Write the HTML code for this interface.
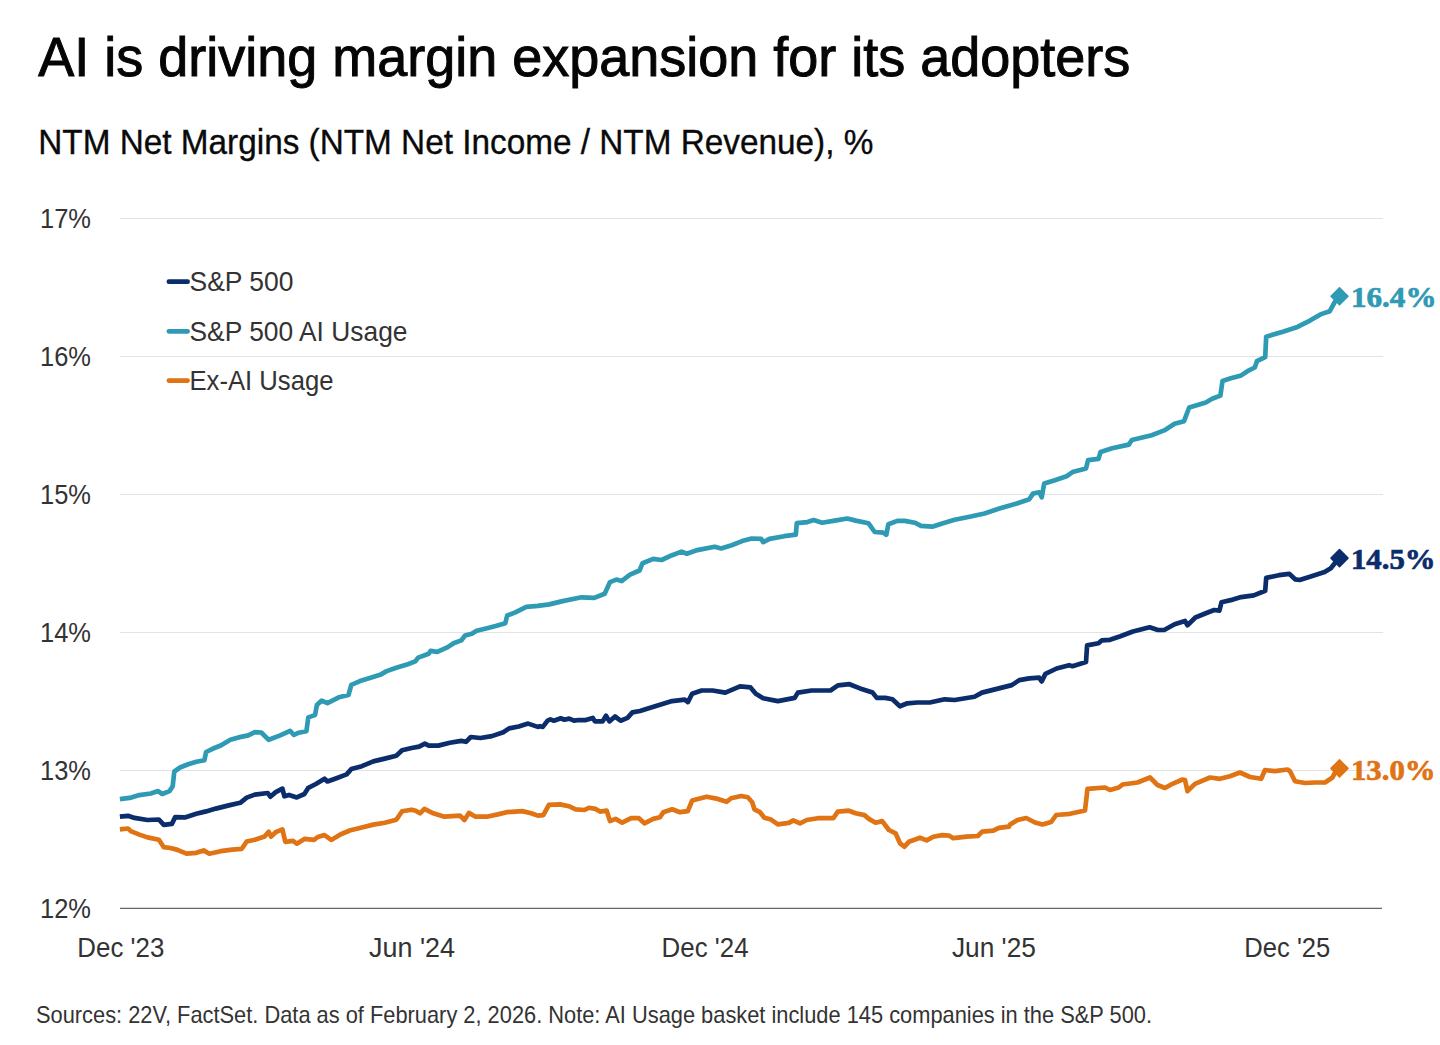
<!DOCTYPE html>
<html><head><meta charset="utf-8"><title>AI is driving margin expansion for its adopters</title>
<style>html,body{margin:0;padding:0;background:#fff;} svg{display:block;}</style></head>
<body><svg width="1440" height="1045" viewBox="0 0 1440 1045">
<rect width="1440" height="1045" fill="#fff"/>
<line x1="120" y1="218.5" x2="1383" y2="218.5" stroke="#e3e3e3" stroke-width="1.2"/>
<line x1="120" y1="356.5" x2="1383" y2="356.5" stroke="#e3e3e3" stroke-width="1.2"/>
<line x1="120" y1="494.5" x2="1383" y2="494.5" stroke="#e3e3e3" stroke-width="1.2"/>
<line x1="120" y1="632.5" x2="1383" y2="632.5" stroke="#e3e3e3" stroke-width="1.2"/>
<line x1="120" y1="770.5" x2="1383" y2="770.5" stroke="#e3e3e3" stroke-width="1.2"/>
<line x1="120" y1="908.3" x2="1382" y2="908.3" stroke="#666666" stroke-width="1.3"/>
<text x="38.3" y="75.8" font-size="56" fill="#050505" text-anchor="start" font-family='"Liberation Sans", sans-serif' font-weight="normal" textLength="1092" lengthAdjust="spacingAndGlyphs" stroke="#050505" stroke-width="1.0">AI is driving margin expansion for its adopters</text>
<text x="38.3" y="154.4" font-size="35.2" fill="#0a0a0a" text-anchor="start" font-family='"Liberation Sans", sans-serif' font-weight="normal" textLength="835" lengthAdjust="spacingAndGlyphs" stroke="#0a0a0a" stroke-width="0.35">NTM Net Margins (NTM Net Income / NTM Revenue), %</text>
<text x="91" y="227.6" font-size="28.5" fill="#333333" text-anchor="end" font-family='"Liberation Sans", sans-serif' font-weight="normal" textLength="51" lengthAdjust="spacingAndGlyphs">17%</text>
<text x="91" y="365.8" font-size="28.5" fill="#333333" text-anchor="end" font-family='"Liberation Sans", sans-serif' font-weight="normal" textLength="51" lengthAdjust="spacingAndGlyphs">16%</text>
<text x="91" y="504" font-size="28.5" fill="#333333" text-anchor="end" font-family='"Liberation Sans", sans-serif' font-weight="normal" textLength="51" lengthAdjust="spacingAndGlyphs">15%</text>
<text x="91" y="642.2" font-size="28.5" fill="#333333" text-anchor="end" font-family='"Liberation Sans", sans-serif' font-weight="normal" textLength="51" lengthAdjust="spacingAndGlyphs">14%</text>
<text x="91" y="780" font-size="28.5" fill="#333333" text-anchor="end" font-family='"Liberation Sans", sans-serif' font-weight="normal" textLength="51" lengthAdjust="spacingAndGlyphs">13%</text>
<text x="91" y="917.8" font-size="28.5" fill="#333333" text-anchor="end" font-family='"Liberation Sans", sans-serif' font-weight="normal" textLength="51" lengthAdjust="spacingAndGlyphs">12%</text>
<text x="120.8" y="956.5" font-size="27.3" fill="#333333" text-anchor="middle" font-family='"Liberation Sans", sans-serif' font-weight="normal" textLength="87" lengthAdjust="spacingAndGlyphs">Dec '23</text>
<text x="412" y="956.5" font-size="27.3" fill="#333333" text-anchor="middle" font-family='"Liberation Sans", sans-serif' font-weight="normal" textLength="86" lengthAdjust="spacingAndGlyphs">Jun '24</text>
<text x="705.1" y="956.5" font-size="27.3" fill="#333333" text-anchor="middle" font-family='"Liberation Sans", sans-serif' font-weight="normal" textLength="87" lengthAdjust="spacingAndGlyphs">Dec '24</text>
<text x="993.9" y="956.5" font-size="27.3" fill="#333333" text-anchor="middle" font-family='"Liberation Sans", sans-serif' font-weight="normal" textLength="84" lengthAdjust="spacingAndGlyphs">Jun '25</text>
<text x="1287.3" y="956.5" font-size="27.3" fill="#333333" text-anchor="middle" font-family='"Liberation Sans", sans-serif' font-weight="normal" textLength="86" lengthAdjust="spacingAndGlyphs">Dec '25</text>
<text x="189.5" y="291.1" font-size="27.3" fill="#333333" text-anchor="start" font-family='"Liberation Sans", sans-serif' font-weight="normal" textLength="104" lengthAdjust="spacingAndGlyphs">S&amp;P 500</text>
<text x="189.5" y="340.9" font-size="27.3" fill="#333333" text-anchor="start" font-family='"Liberation Sans", sans-serif' font-weight="normal" textLength="218" lengthAdjust="spacingAndGlyphs">S&amp;P 500 AI Usage</text>
<text x="189.5" y="390.4" font-size="27.3" fill="#333333" text-anchor="start" font-family='"Liberation Sans", sans-serif' font-weight="normal" textLength="144" lengthAdjust="spacingAndGlyphs">Ex-AI Usage</text>
<text x="36" y="1022.8" font-size="23.8" fill="#333333" text-anchor="start" font-family='"Liberation Sans", sans-serif' font-weight="normal" textLength="1116" lengthAdjust="spacingAndGlyphs">Sources: 22V, FactSet. Data as of February 2, 2026. Note: AI Usage basket include 145 companies in the S&amp;P 500.</text>
<line x1="168.9" y1="281.7" x2="187.6" y2="281.7" stroke="#0c2d6b" stroke-width="4.7" stroke-linecap="round"/>
<line x1="168.9" y1="331.3" x2="187.6" y2="331.3" stroke="#2f9ab4" stroke-width="4.7" stroke-linecap="round"/>
<line x1="168.9" y1="380.6" x2="187.6" y2="380.6" stroke="#e07313" stroke-width="4.7" stroke-linecap="round"/>
<path d="M119.9,829.3 L128.0,828.5 L131.3,831.4 L139.4,834.6 L147.5,837.4 L158.9,839.8 L163.8,847.2 L170.3,848.0 L176.8,849.6 L186.5,853.7 L196.3,852.8 L203.6,850.4 L209.3,853.7 L220.7,851.2 L232.1,849.6 L241.8,848.8 L246.7,841.5 L254.8,839.8 L264.6,836.6 L268.7,831.7 L271.1,836.6 L275.7,832.2 L282.4,829.4 L285.3,841.8 L293.0,840.9 L296.8,843.7 L304.4,838.9 L314.0,839.9 L317.8,837.0 L324.5,835.1 L331.2,839.9 L340.8,834.2 L350.4,830.3 L361.9,827.5 L373.3,824.6 L384.8,822.7 L396.3,819.8 L402.1,811.2 L411.6,809.7 L415.6,810.7 L420.0,813.3 L424.4,808.9 L433.3,813.3 L444.4,816.7 L460.0,815.6 L464.4,820.0 L468.9,812.9 L475.6,816.7 L486.7,816.7 L497.8,814.4 L506.7,812.2 L522.2,811.1 L531.1,813.3 L537.8,815.6 L543.3,815.1 L548.9,804.9 L560.0,804.4 L568.9,806.2 L575.6,809.3 L584.4,810.0 L588.9,807.8 L595.6,808.9 L600.0,811.6 L606.7,810.7 L610.0,821.1 L615.6,818.9 L622.2,822.7 L631.1,818.2 L638.9,818.2 L644.4,823.3 L653.3,818.9 L660.0,817.3 L663.3,812.2 L672.2,809.3 L680.0,812.2 L687.8,811.1 L692.2,800.4 L697.8,798.9 L706.7,796.7 L717.8,798.9 L726.7,801.8 L731.1,798.2 L741.1,796.0 L747.8,797.3 L752.2,802.2 L754.4,809.3 L760.0,812.2 L764.4,817.8 L771.1,819.6 L777.8,824.4 L788.9,822.9 L793.3,820.4 L800.0,823.3 L806.7,820.0 L817.8,818.2 L833.3,818.2 L837.8,811.6 L848.9,810.7 L855.6,813.3 L864.4,815.1 L868.9,818.9 L875.6,822.7 L882.2,821.1 L888.9,830.0 L895.6,833.3 L900.0,843.3 L904.4,846.7 L908.9,841.8 L920.0,837.8 L926.7,840.4 L933.3,836.7 L942.2,835.1 L948.9,835.6 L953.3,838.2 L966.7,836.7 L977.8,836.0 L982.2,831.6 L993.3,830.7 L998.9,827.8 L1008.9,826.7 L1010.0,824.5 L1017.5,820.0 L1026.2,818.0 L1035.0,822.5 L1042.5,824.5 L1051.2,822.0 L1056.2,815.0 L1070.0,813.8 L1085.0,810.5 L1087.5,788.8 L1105.0,787.5 L1110.0,790.0 L1118.8,787.5 L1122.5,784.5 L1137.5,782.5 L1150.0,777.5 L1157.5,785.0 L1165.0,788.0 L1172.5,783.8 L1182.5,779.5 L1185.0,780.0 L1187.5,791.2 L1195.0,783.8 L1210.0,777.5 L1220.0,778.8 L1230.0,776.2 L1240.0,772.5 L1250.0,777.0 L1261.2,778.8 L1265.0,770.0 L1275.0,771.2 L1287.5,769.5 L1290.0,771.2 L1295.0,781.2 L1305.0,783.0 L1315.0,782.5 L1325.0,782.5 L1332.5,777.5 L1335.0,772.5 L1339.5,768.0" fill="none" stroke="#e07313" stroke-width="4.7" stroke-linejoin="round" stroke-linecap="butt"/>
<path d="M119.9,816.7 L128.0,815.8 L134.5,817.9 L147.5,820.0 L158.9,819.5 L163.8,824.9 L171.9,823.9 L175.2,817.1 L184.9,817.4 L196.3,813.8 L206.1,811.4 L215.8,808.6 L228.8,805.4 L240.2,802.8 L246.7,797.6 L254.8,794.6 L267.8,793.0 L270.3,796.7 L275.7,792.1 L282.4,788.6 L284.4,796.3 L289.1,794.9 L296.8,797.4 L304.4,794.0 L308.3,787.8 L315.9,784.0 L324.5,778.7 L327.4,781.5 L335.1,778.7 L346.6,774.4 L351.3,769.1 L361.9,766.2 L373.3,761.4 L384.8,758.6 L396.3,755.7 L402.1,750.3 L411.6,748.0 L419.1,746.6 L424.9,743.7 L428.7,745.6 L438.3,745.6 L449.8,742.8 L461.2,740.9 L466.0,741.8 L470.8,737.0 L480.4,738.0 L491.9,736.1 L503.3,732.2 L509.1,728.4 L518.7,726.5 L528.2,723.6 L537.8,726.9 L540.0,726.2 L542.8,726.9 L547.6,720.6 L550.4,719.4 L553.9,720.7 L560.8,718.3 L564.3,719.7 L569.2,718.6 L574.0,720.7 L578.9,720.0 L585.8,720.1 L592.8,717.9 L594.9,721.4 L602.5,721.4 L606.0,715.8 L609.4,721.4 L615.0,716.5 L620.6,720.7 L627.5,717.9 L632.4,712.4 L640.0,711.0 L644.7,709.5 L661.6,704.2 L672.1,701.1 L684.7,699.6 L687.9,702.1 L692.1,693.7 L701.6,690.5 L712.6,690.5 L725.3,692.6 L740.0,686.3 L750.5,687.4 L755.8,693.7 L763.2,698.3 L777.9,701.1 L794.7,697.9 L797.9,692.6 L811.6,690.5 L830.5,690.5 L837.9,685.3 L849.5,684.2 L860.0,688.4 L872.6,692.6 L876.8,697.9 L885.3,697.9 L892.4,699.3 L899.9,706.3 L907.4,703.3 L917.3,702.5 L929.8,702.5 L944.7,699.3 L954.6,700.0 L974.5,696.8 L982.0,692.6 L996.9,688.9 L1011.8,685.1 L1019.3,680.1 L1029.3,678.4 L1039.2,677.7 L1041.7,681.4 L1045.4,673.9 L1056.6,668.5 L1069.1,665.2 L1072.5,666.2 L1086.0,662.1 L1087.1,645.4 L1098.5,643.3 L1101.7,640.4 L1110.0,639.8 L1120.4,636.2 L1132.9,631.5 L1149.6,627.3 L1157.9,630.0 L1164.2,630.0 L1174.6,624.2 L1185.0,621.0 L1187.5,625.2 L1195.4,617.5 L1205.8,613.3 L1214.2,610.0 L1219.4,610.6 L1221.5,602.3 L1232.9,599.6 L1241.2,597.1 L1253.8,595.4 L1265.2,590.8 L1266.2,577.9 L1278.8,575.2 L1289.2,573.8 L1295.4,579.4 L1299.6,580.0 L1310.0,576.7 L1324.6,572.1 L1330.8,568.3 L1334.0,564.2 L1339.2,557.5" fill="none" stroke="#0c2d6b" stroke-width="4.7" stroke-linejoin="round" stroke-linecap="butt"/>
<path d="M119.9,799.2 L131.3,797.6 L139.4,795.1 L150.8,793.5 L158.1,791.1 L162.2,794.0 L169.5,791.1 L172.7,786.2 L174.3,771.5 L180.0,767.5 L188.2,764.2 L196.3,761.8 L204.4,760.2 L206.1,752.0 L212.6,748.8 L220.7,745.5 L230.4,739.8 L238.6,737.4 L248.3,735.4 L254.8,732.2 L261.3,732.5 L268.7,739.8 L279.6,735.6 L290.1,730.8 L293.9,735.0 L298.7,732.7 L306.4,731.2 L308.3,717.4 L315.0,715.1 L316.9,705.0 L321.7,700.6 L327.4,703.1 L338.9,697.3 L348.5,695.0 L351.3,684.9 L360.0,681.1 L371.4,677.6 L381.0,674.4 L386.7,671.1 L396.3,667.7 L407.8,664.2 L415.3,661.4 L418.2,657.6 L428.7,653.8 L430.6,650.9 L437.3,651.9 L447.8,647.1 L453.6,643.3 L461.2,640.4 L465.1,635.6 L471.8,633.7 L476.6,630.8 L486.1,628.5 L495.7,626.0 L505.3,623.2 L507.2,615.5 L514.8,612.6 L526.3,606.9 L537.8,605.9 L549.3,604.4 L562.6,601.1 L581.6,597.3 L594.2,597.9 L604.7,593.7 L610.0,582.1 L616.3,579.6 L621.6,581.1 L630.0,574.7 L639.5,570.5 L642.6,563.2 L653.2,558.9 L661.6,560.0 L672.1,555.2 L681.6,551.6 L686.8,553.7 L697.4,550.1 L714.7,546.7 L721.1,548.4 L731.6,545.3 L742.1,541.1 L751.6,538.5 L761.1,538.9 L763.2,542.1 L769.5,538.9 L784.2,536.2 L795.8,534.7 L796.8,523.2 L807.4,522.1 L813.7,520.0 L822.1,522.7 L834.7,520.6 L847.4,518.5 L855.8,520.6 L868.4,523.2 L874.7,532.0 L883.2,532.6 L886.3,534.7 L888.4,524.2 L897.4,520.9 L904.9,520.9 L914.8,522.7 L921.0,525.9 L932.2,526.7 L942.2,523.4 L954.6,519.7 L969.6,516.7 L984.5,513.5 L999.4,508.5 L1016.8,503.5 L1029.3,499.3 L1033.0,493.6 L1039.2,492.3 L1041.7,497.3 L1044.2,483.6 L1054.1,480.4 L1066.6,476.2 L1072.5,472.1 L1086.0,468.5 L1088.1,460.2 L1098.5,458.8 L1100.6,451.9 L1112.1,448.3 L1128.8,444.6 L1131.9,440.0 L1143.3,437.3 L1151.7,435.2 L1164.2,430.4 L1174.6,423.8 L1184.0,421.2 L1189.2,407.5 L1205.8,402.5 L1212.1,398.8 L1220.4,395.6 L1222.5,381.0 L1230.8,378.3 L1241.2,375.4 L1247.5,371.2 L1254.8,367.5 L1256.9,361.2 L1265.2,357.1 L1266.2,336.7 L1282.9,331.7 L1297.5,326.9 L1310.0,320.6 L1320.4,314.4 L1329.8,311.2 L1334.0,303.3 L1339.2,295.6" fill="none" stroke="#2f9ab4" stroke-width="4.7" stroke-linejoin="round" stroke-linecap="butt"/>
<path d="M1339.5,287.7 L1348.0,296.2 L1339.5,304.7 L1331.0,296.2 Z" fill="#2f9ab4" stroke="#2f9ab4" stroke-width="1.5" stroke-linejoin="round"/>
<path d="M1339.5,549.6 L1348.0,558.1 L1339.5,566.6 L1331.0,558.1 Z" fill="#0c2d6b" stroke="#0c2d6b" stroke-width="1.5" stroke-linejoin="round"/>
<path d="M1339.5,759.9 L1348.0,768.4 L1339.5,776.9 L1331.0,768.4 Z" fill="#e07313" stroke="#e07313" stroke-width="1.5" stroke-linejoin="round"/>
<text x="1351" y="307.1" font-size="28.5" fill="#2f9ab4" text-anchor="start" font-family='"Liberation Serif", serif' font-weight="bold" textLength="85.5" lengthAdjust="spacingAndGlyphs" stroke="#2f9ab4" stroke-width="0.7">16.4%</text>
<text x="1351" y="568.8" font-size="28.5" fill="#0c2d6b" text-anchor="start" font-family='"Liberation Serif", serif' font-weight="bold" textLength="84.5" lengthAdjust="spacingAndGlyphs" stroke="#0c2d6b" stroke-width="0.7">14.5%</text>
<text x="1351" y="779.5" font-size="28.5" fill="#e07313" text-anchor="start" font-family='"Liberation Serif", serif' font-weight="bold" textLength="84.5" lengthAdjust="spacingAndGlyphs" stroke="#e07313" stroke-width="0.7">13.0%</text>
</svg></body></html>
